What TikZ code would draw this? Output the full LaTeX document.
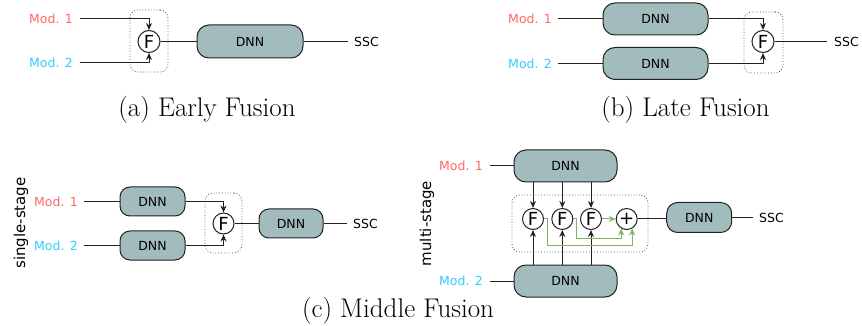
\documentclass[tikz,border=0pt]{standalone}
\usepackage{fontspec}
\newfontfamily\dv{DejaVu Sans}
\usetikzlibrary{arrows.meta,calc}
\definecolor{modred}{HTML}{FF6666}
\definecolor{modcyan}{HTML}{33CCFF}
\definecolor{dnnfill}{HTML}{A2BBBC}
\definecolor{fgreen}{HTML}{82B366}
\definecolor{edge}{HTML}{222222}
\tikzset{
  lbl/.style={font=\dv\fontsize{12.5}{14}\selectfont, inner sep=0pt},
  modA/.style={lbl, text=modred, anchor=east},
  modB/.style={lbl, text=modcyan, anchor=east},
  ssc/.style={lbl, anchor=west},
  side/.style={font=\dv\fontsize{15}{18}\selectfont, inner sep=0pt, rotate=90},
  dnn/.style={draw=edge, fill=dnnfill, line width=1pt, rounded corners=12pt,
    font=\dv\fontsize{12.5}{14}\selectfont, inner sep=0pt},
  fus/.style={circle, draw=edge, fill=white, line width=1pt, inner sep=0pt,
    minimum size=22pt, font=\dv\fontsize{18}{18}\selectfont},
  dotbox/.style={draw=edge!80, dotted, line width=0.8pt, rounded corners=8pt,
    inner sep=0pt},
  wire/.style={draw=edge, line width=1pt},
  arr/.style={wire, -{Stealth[length=7pt,width=6pt]}},
  garr/.style={draw=fgreen, line width=1pt, -{Stealth[length=7pt,width=6pt]}},
  captext/.style={font=\fontsize{27}{30}\selectfont, inner sep=0pt, anchor=base},
}
\begin{document}
\begin{tikzpicture}[x=1pt,y=-1pt]
\useasboundingbox (0,0) rectangle (863,326);

% ---------- (a) Early Fusion ----------
\node[dotbox, minimum width=38pt, minimum height=62pt] (aBox) at (149,41) {};
\node[modA] (a1) at (73,19) {Mod. 1};
\node[modB] (a2) at (73,62.5) {Mod. 2};
\coordinate (a1s) at (80,19);
\coordinate (a2s) at (80,62.5);
\node[fus] (aF) at (149,41.5) {F};
\node[dnn, minimum width=106pt, minimum height=33pt] (aD) at (250,41.5) {DNN};
\coordinate (aE) at (348,41.5);
\node[ssc] (aS) at (354,41.5) {SSC};
\draw[arr] (a1s) -| (aF.north);
\draw[arr] (a2s) -| (aF.south);
\draw[wire] (aF) -- (aD);
\draw[wire] (aD) -- (aE);
\node[captext] (aCap) at (207,117) {(a) Early Fusion};

% ---------- (b) Late Fusion ----------
\node[dotbox, minimum width=39pt, minimum height=61pt] (bBox) at (763.5,42.5) {};
\node[modA] (b1) at (552,19) {Mod. 1};
\node[modB] (b2) at (552,63.5) {Mod. 2};
\coordinate (b1s) at (558,19);
\coordinate (b2s) at (558,63.5);
\node[dnn, minimum width=105pt, minimum height=32pt] (bD1) at (655.5,19) {DNN};
\node[dnn, minimum width=105pt, minimum height=32pt] (bD2) at (655.5,63.5) {DNN};
\node[fus] (bF) at (763,41.5) {F};
\coordinate (bE) at (827,41.5);
\node[ssc] (bS) at (834,41.5) {SSC};
\draw[wire] (b1s) -- (bD1);
\draw[wire] (b2s) -- (bD2);
\draw[arr] (bD1) -| (bF.north);
\draw[arr] (bD2) -| (bF.south);
\draw[wire] (bF) -- (bE);
\node[captext] (bCap) at (685.5,117) {(b) Late Fusion};

% ---------- (c) single-stage ----------
\node[side] (cLab) at (21,223) {single-stage};
\node[dotbox, minimum width=37pt, minimum height=60pt] (cBox) at (223.5,223) {};
\node[modA] (c1) at (78,201.5) {Mod. 1};
\node[modB] (c2) at (78,245.5) {Mod. 2};
\coordinate (c1s) at (84,201.5);
\coordinate (c2s) at (84,245.5);
\node[dnn, rounded corners=10pt, minimum width=65pt, minimum height=29pt] (cD1) at (152.5,201.5) {DNN};
\node[dnn, rounded corners=10pt, minimum width=65pt, minimum height=29pt] (cD2) at (152.5,245.5) {DNN};
\node[fus, minimum size=21pt] (cF) at (223.5,223.5) {F};
\node[dnn, rounded corners=10pt, minimum width=64pt, minimum height=29pt] (cD3) at (291,223.5) {DNN};
\coordinate (cE) at (347,223.5);
\node[ssc] (cS) at (353,223.5) {SSC};
\draw[wire] (c1s) -- (cD1);
\draw[wire] (c2s) -- (cD2);
\draw[arr] (cD1) -| (cF.north);
\draw[arr] (cD2) -| (cF.south);
\draw[wire] (cF) -- (cD3);
\draw[wire] (cD3) -- (cE);

% ---------- (c) multi-stage ----------
\node[side] (mLab) at (427,223.5) {multi-stage};
\node[dotbox, minimum width=136pt, minimum height=57pt] (mBox) at (580,223.5) {};
\node[modA] (m1) at (483,166) {Mod. 1};
\node[modB] (m2) at (483,281) {Mod. 2};
\coordinate (m1s) at (490,166);
\coordinate (m2s) at (490,281);
\node[dnn, minimum width=103pt, minimum height=32pt] (mD1) at (565.5,166) {DNN};
\node[dnn, minimum width=103pt, minimum height=32pt] (mD2) at (565.5,281) {DNN};
\node[fus, minimum size=21pt] (mF1) at (533,219) {F};
\node[fus, minimum size=21pt] (mF2) at (562.3,219) {F};
\node[fus, minimum size=21pt] (mF3) at (591,219) {F};
\node[fus, minimum size=21pt] (mP) at (626.7,219) {+};
\node[dnn, rounded corners=11pt, minimum width=65pt, minimum height=30pt] (mD3) at (699.2,217.5) {DNN};
\coordinate (mE) at (752.7,217.5);
\node[ssc] (mS) at (759,217.5) {SSC};
\draw[wire] (m1s) -- (mD1);
\draw[wire] (m2s) -- (mD2);
\foreach \f in {mF1,mF2,mF3}{
  \draw[arr] (\f |- mD1.south) -- (\f.north);
  \draw[arr] (\f |- mD2.north) -- (\f.south);
}
\draw[garr] (mF3) -- (mP);
\draw[garr] (mF2.east) -- ++(3.5,0) -- ++(0,20) -| (mP.-120);
\draw[garr] (mF1.east) -- ++(3,0) -- ++(0,26.7) -| (mP.-60);
\draw[wire] (mP.east) -- (mP.east -| mD3.west);
\draw[wire] (mD3) -- (mE);

\node[captext] (cCap) at (398,317) {(c) Middle Fusion};
\end{tikzpicture}
\end{document}
